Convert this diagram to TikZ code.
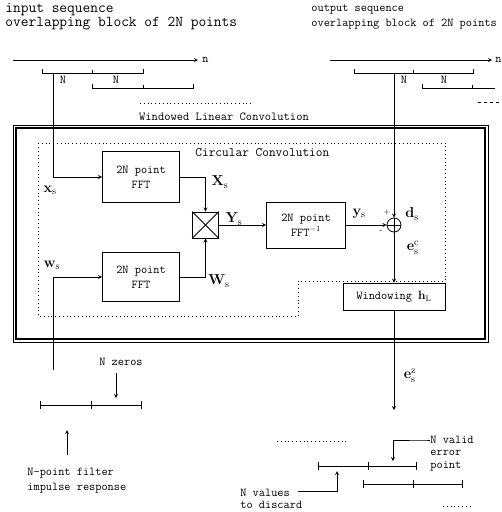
\documentclass[tikz,border=0pt]{standalone}
\usepackage{amsmath,amssymb}
\usepackage{tikz}

\tikzset{
  txt/.style={font=\fontsize{12}{13}\selectfont\ttfamily, inner sep=0pt},
  sig/.style={font=\fontsize{14}{15}\selectfont, inner sep=0pt},
  block/.style={draw, minimum width=77pt, minimum height=51pt, align=center,
    inner sep=0pt, font=\fontsize{12}{15}\selectfont\ttfamily},
  flow/.style={->},
  dotline/.style={dash pattern=on 0.8pt off 3pt},
}
% bracket with raised ends: x1, xmid, x2, y
\newcommand{\upseg}[4]{%
  \draw (#1,#4-4) -- (#1,#4) -- (#3,#4) -- (#3,#4-4);
  \draw (#2,#4-3) -- (#2,#4);}
% segment with crossing ticks: x1, xmid, x2, y
\newcommand{\tickseg}[4]{%
  \draw (#1,#4) -- (#3,#4);
  \draw (#1,#4-4) -- (#1,#4+4) (#2,#4-4) -- (#2,#4+4) (#3,#4-4) -- (#3,#4+4);}

\begin{document}
\begin{tikzpicture}[x=1pt,y=-1pt,>=stealth,line width=0.8pt]
    \useasboundingbox (0,0) rectangle (502,512);
    % top left: input sequence
    \node[txt,anchor=west,font=\fontsize{15}{16}\selectfont\ttfamily] (intitle) at (5,10) {input sequence};
    \node[txt,anchor=west,font=\fontsize{15}{16}\selectfont\ttfamily] (inblock) at (5,24) {overlapping block of 2N points};
    \coordinate (inL) at (13,60);
    \coordinate (inR) at (198,60);
    \draw[->] (inL) -- (inR) node[txt,right=4pt] (inn) {n};
    \upseg{42}{92}{143}{73}
    \upseg{92}{143}{193}{88}
    \node[txt] (inN1) at (63,80) {N};
    \node[txt] (inN2) at (116,80) {N};
    \draw[dotline] (140,103) -- (252,103);
    \node[txt,font=\fontsize{12.2}{13}\selectfont\ttfamily] (wlc) at (224,117) {Windowed Linear Convolution};
    % top right: output sequence
    \node[txt,anchor=west] (outtitle) at (311,10) {output sequence};
    \node[txt,anchor=west] (outblock) at (311,24) {overlapping block of 2N points};
    \coordinate (outL) at (330,60);
    \coordinate (outR) at (492,60);
    \draw[->] (outL) -- (outR) node[txt,right=3pt] (outn) {n};
    \upseg{354}{413}{473}{73}
    \draw (422,84) -- (422,88) -- (495,88);
    \draw (472,85) -- (472,88);
    \node[txt] (outN1) at (404,80) {N};
    \node[txt] (outN2) at (444,80) {N};
    \draw[dash pattern=on 3pt off 3pt] (478,102) -- (500,102);
    % frames
    \draw[line width=0.6pt] (13,125) rectangle (488,342);
    \draw[line width=1.3pt] (16,128) rectangle (485,339);
    \draw[dotline] (38,143) -- (445,143) -- (445,281) -- (298,281) -- (298,316) -- (38,316) -- cycle;
    \node[txt,anchor=west,font=\fontsize{13}{14}\selectfont\ttfamily] (cc) at (195,153) {Circular Convolution};
    % blocks
    \node[block] (fftx) at (141,177) {2N point\\FFT};
    \node[block,minimum height=49pt] (fftw) at (141,277) {2N point\\FFT};
    \node[draw,minimum size=26pt,inner sep=0pt] (mul) at (205.5,225) {};
    \draw (mul.north west) -- (mul.south east) (mul.north east) -- (mul.south west);
    \node[block,minimum width=79pt,minimum height=46pt] (ifft) at (306,225) {2N point\\FFT$^{-1}$};
    \node[draw,circle,minimum size=14pt,inner sep=0pt] (sum) at (394,225) {};
    \draw (sum.north) -- (sum.south) (sum.west) -- (sum.east);
    \node[draw,minimum width=102pt,minimum height=27pt,inner sep=0pt,
      font=\fontsize{12}{13}\selectfont\ttfamily] (win) at (394,296.5) {Windowing $\mathbf{h}_{\mathrm{L}}$};
    % signal paths
    \coordinate (xtap) at (53,73);
    \coordinate (wtap) at (53,370);
    \coordinate (dtap) at (394,73);
    \coordinate (eout) at (394,410);
    \draw[flow] (xtap) |- (fftx.west);
    \draw[flow] (wtap) |- (fftw.west);
    \draw[flow] (fftx.east) -| (mul.north);
    \draw[flow] (fftw.east) -| (mul.south);
    \draw[flow] (mul.east) -- (ifft.west);
    \draw[flow] (ifft.east) -- (sum.west);
    \draw[flow] (dtap) -- (sum.north);
    \draw[flow] (sum.south) -- (win.north);
    \draw[flow] (win.south) -- (eout);
    % signal labels
    \node[sig] (lx) at (50,190) {$\mathbf{x}_{\mathrm{s}}$};
    \node[sig] (lw) at (52,265) {$\mathbf{w}_{\mathrm{s}}$};
    \node[sig] (lX) at (220,182) {$\mathbf{X}_{\mathrm{s}}$};
    \node[sig] (lW) at (219,281) {$\mathbf{W}_{\mathrm{s}}$};
    \node[sig] (lY) at (234,219) {$\mathbf{Y}_{\mathrm{s}}$};
    \node[sig] (ly) at (359,214) {$\mathbf{y}_{\mathrm{s}}$};
    \node[sig] (ld) at (412,214) {$\mathbf{d}_{\mathrm{s}}$};
    \node[sig] (lec) at (413,248) {$\mathbf{e}_{\mathrm{s}}^{\mathrm{c}}$};
    \node[sig] (lez) at (410,376) {$\mathbf{e}_{\mathrm{s}}^{\mathrm{z}}$};
    \node[txt,font=\fontsize{8}{9}\selectfont] (plus) at (387,212) {+};
    \node[txt,font=\fontsize{8}{9}\selectfont] (minus) at (381,232) {-};
    % impulse response
    \node[txt] (nzeros) at (121,362) {N zeros};
    \coordinate (zt) at (116,373);
    \coordinate (zb) at (116,398);
    \draw[->] (zt) -- (zb);
    \tickseg{40}{91}{141}{405}
    \coordinate (ft) at (67,430);
    \coordinate (fb) at (67,455);
    \draw[->] (fb) -- (ft);
    \node[txt,anchor=west] (filt1) at (27,473) {N-point filter};
    \node[txt,anchor=west] (filt2) at (27,488) {impulse response};
    % output blocks
    \draw[dotline] (277,441) -- (347,441);
    \tickseg{318}{368}{416}{466}
    \tickseg{363}{413}{462}{484}
    \draw[dotline] (443,506) -- (472,506);
    \node[txt,anchor=west] (valid1) at (430,440) {N valid};
    \node[txt,anchor=west] (valid2) at (430,453) {error};
    \node[txt,anchor=west] (valid3) at (430,466) {point};
    \coordinate (vt) at (393,461);
    \draw[->] (valid1.west) -- ++(-5,0) -| (vt);
    \node[txt,anchor=west] (disc1) at (240,493) {N values};
    \node[txt,anchor=west] (disc2) at (240,505) {to discard};
    \coordinate (dt) at (337,471);
    \draw[->] (disc1.east) ++(8,-2) -| (dt);
\end{tikzpicture}
\end{document}
